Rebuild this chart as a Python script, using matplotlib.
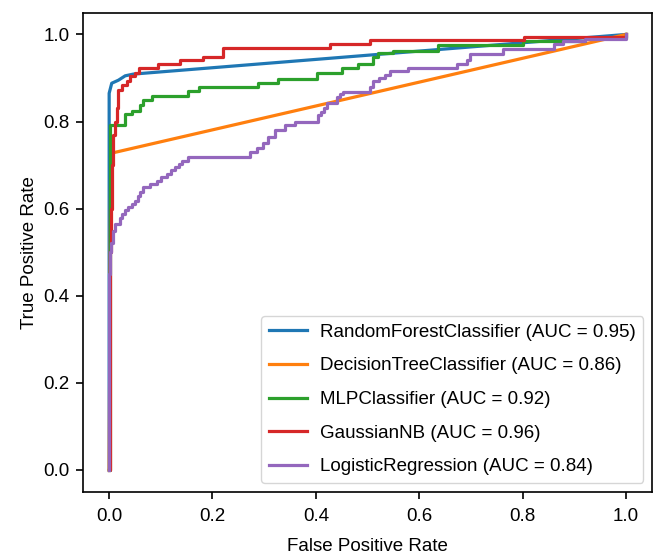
import numpy as np
import matplotlib
matplotlib.use('Agg')
import matplotlib.pyplot as plt

    ## 0 Data
labels = ['RandomForestClassifier', 'DecisionTreeClassifier', 'MLPClassifier',
          'GaussianNB', 'LogisticRegression']
aucs = [0.95, 0.86, 0.92, 0.96, 0.84]

# random forest / decision tree: few thresholds, straight segments
rf_fpr = [0.0, 0.0, 0.005, 0.018, 0.031, 0.047, 1.0]
rf_tpr = [0.0, 0.865, 0.888, 0.895, 0.905, 0.909, 1.0]

dt_fpr = [0.0, 0.003, 1.0]
dt_tpr = [0.0, 0.727, 1.0]

# staircase curves (each tpr level is held until the next fpr)
mlp_fpr = [0.0, 0.002, 0.031, 0.044, 0.060, 0.066, 0.082, 0.153, 0.173, 0.289, 0.327,
           0.402, 0.450, 0.482, 0.511, 0.520, 0.550, 0.637, 0.800, 0.920, 1.0]
mlp_tpr = [0.0, 0.792, 0.817, 0.824, 0.838, 0.850, 0.859, 0.870, 0.880, 0.888, 0.898,
           0.911, 0.922, 0.932, 0.949, 0.957, 0.963, 0.975, 0.985, 0.993, 1.0]

gnb_fpr = [0.0, 0.001, 0.004, 0.006, 0.008, 0.012, 0.015, 0.018, 0.024, 0.034, 0.040,
           0.050, 0.057, 0.095, 0.137, 0.182, 0.221, 0.427, 0.505, 0.802, 1.0]
gnb_tpr = [0.0, 0.50, 0.60, 0.70, 0.77, 0.80, 0.83, 0.872, 0.884, 0.892, 0.904,
           0.911, 0.922, 0.932, 0.941, 0.949, 0.968, 0.977, 0.987, 0.995, 1.0]

lr_fpr = [0.0, 0.0, 0.002, 0.004, 0.008, 0.012, 0.021, 0.025, 0.031, 0.037, 0.044,
          0.050, 0.055, 0.060, 0.066, 0.080, 0.092, 0.100, 0.112, 0.120, 0.128,
          0.135, 0.141, 0.153, 0.273, 0.286, 0.298, 0.308, 0.321, 0.340, 0.360,
          0.405, 0.410, 0.415, 0.421, 0.440, 0.446, 0.453, 0.505, 0.511, 0.522,
          0.534, 0.544, 0.579, 0.673, 0.692, 0.698, 0.763, 0.860, 0.879, 0.921, 1.0]
lr_tpr = [0.0, 0.45, 0.50, 0.52, 0.549, 0.565, 0.578, 0.588, 0.596, 0.603, 0.610,
          0.618, 0.628, 0.638, 0.649, 0.656, 0.664, 0.672, 0.680, 0.688, 0.695,
          0.703, 0.710, 0.719, 0.731, 0.739, 0.750, 0.765, 0.781, 0.792, 0.800,
          0.815, 0.822, 0.830, 0.842, 0.857, 0.863, 0.869, 0.880, 0.892, 0.900,
          0.907, 0.915, 0.922, 0.932, 0.941, 0.955, 0.967, 0.977, 0.985, 0.990, 1.0]

curves = [(rf_fpr, rf_tpr, 'default'),
          (dt_fpr, dt_tpr, 'default'),
          (mlp_fpr, mlp_tpr, 'steps-post'),
          (gnb_fpr, gnb_tpr, 'steps-post'),
          (lr_fpr, lr_tpr, 'steps-post')]

    ## 1 Style
plt.rcParams['font.family'] = ['Liberation Sans', 'DejaVu Sans']
plt.rcParams['font.size'] = 13.5
plt.rcParams['axes.linewidth'] = 1.2
plt.rcParams['xtick.major.size'] = 5
plt.rcParams['ytick.major.size'] = 5
plt.rcParams['xtick.major.width'] = 1.2
plt.rcParams['ytick.major.width'] = 1.2
plt.rcParams['xtick.major.pad'] = 7
plt.rcParams['ytick.major.pad'] = 5

fig = plt.figure(figsize=(6.54, 5.54), dpi=100)
ax = fig.add_axes([0.1274, 0.1125, 0.8691, 0.8646])

for (fpr, tpr, ds), name, auc in zip(curves, labels, aucs):
    ax.plot(fpr, tpr, drawstyle=ds, linewidth=2.3,
            label=f'{name} (AUC = {auc:.2f})')

ax.set_xticks(np.arange(0, 1.01, 0.2))
ax.set_yticks(np.arange(0, 1.01, 0.2))
ax.set_xlabel('False Positive Rate', labelpad=9)
ax.set_ylabel('True Positive Rate', labelpad=4)
ax.legend(loc='lower right', borderaxespad=0.45, labelspacing=0.88,
          borderpad=0.42, handletextpad=0.7)

fig.savefig('out.png', dpi=100)
